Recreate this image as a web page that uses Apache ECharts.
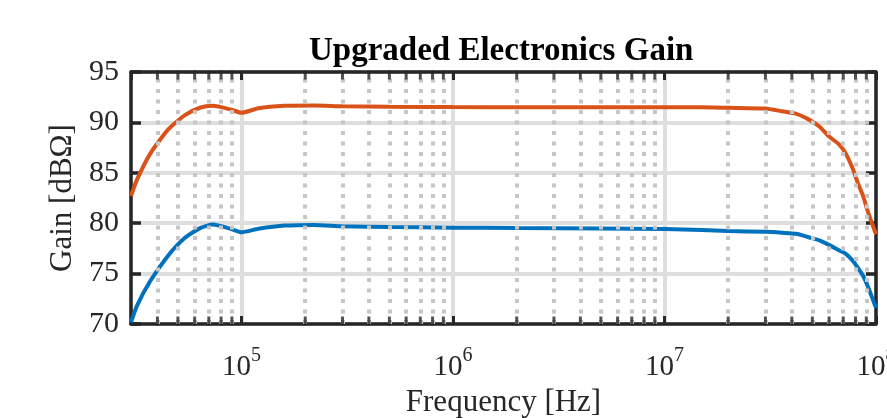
<!DOCTYPE html>
<html>
<head>
<meta charset="utf-8">
<script src="https://cdn.jsdelivr.net/npm/echarts@6/dist/echarts.min.js"></script>
<style>
html,body{margin:0;padding:0;background:#fff;}
#chart{width:887px;height:418px;}
</style>
</head>
<body>
<div id="chart"></div>
<script>
// ---- data ----
const frequency = [3e4, 3.2e4, 3.7e4, 4.5e4, 5.4e4, 6.4e4, 7.3e4, 8.9e4, 1e5, 1.2e5, 1.6e5, 2.2e5, 3e5, 5e5, 1e6, 2e6, 5e6, 1e7, 1.5e7, 2e7, 3e7, 3.6e7, 4.2e7, 4.8e7, 5.4e7, 6e7, 6.7e7, 7.2e7, 7.8e7, 8.2e7, 8.7e7, 9.2e7, 1e8];
const gainHigh = [82.7, 84.3, 86.9, 89.3, 90.72, 91.48, 91.65, 91.28, 90.95, 91.4, 91.64, 91.68, 91.6, 91.55, 91.52, 91.5, 91.5, 91.5, 91.5, 91.45, 91.38, 91.1, 90.85, 90.3, 89.6, 88.6, 87.8, 86.9, 85.3, 84.0, 82.66, 81.0, 78.9];
const gainLow = [70.16, 71.8, 74.26, 76.8, 78.55, 79.54, 79.86, 79.44, 79.1, 79.44, 79.76, 79.83, 79.7, 79.62, 79.56, 79.52, 79.47, 79.42, 79.32, 79.22, 79.14, 79.05, 78.95, 78.61, 78.3, 77.85, 77.3, 76.95, 76.24, 75.59, 74.76, 73.6, 71.6];
const minorTicks = [4e4, 5e4, 6e4, 7e4, 8e4, 9e4,
  2e5, 3e5, 4e5, 5e5, 6e5, 7e5, 8e5, 9e5,
  2e6, 3e6, 4e6, 5e6, 6e6, 7e6, 8e6, 9e6,
  2e7, 3e7, 4e7, 5e7, 6e7, 7e7, 8e7, 9e7];
const xMin = 3e4, xMax = 1e8;
const yMin = 70, yMax = 95, yStep = 5;
const titleText = 'Upgraded Electronics Gain';
const xName = 'Frequency [Hz]';
const yName = 'Gain [dBΩ]';

const FONT = '"Liberation Serif", "DejaVu Serif", serif';
const AX = '#262626';
const TXT = '#262626';

const chart = echarts.init(document.getElementById('chart'), null, {renderer: 'canvas'});

const pairs = (ys) => frequency.map((f, i) => [f, ys[i]]);

chart.setOption({
  animation: false,
  backgroundColor: '#ffffff',
  title: {
    text: titleText,
    left: 309,
    top: 35,
    padding: 0,
    textStyle: {fontFamily: FONT, fontWeight: 'bold', fontSize: 33, color: '#000'}
  },
  grid: {left: 131, top: 72, width: 745, height: 252, containLabel: false, outerBoundsMode: 'none'},
  xAxis: [{
    type: 'log', logBase: 10, min: xMin, max: xMax, position: 'bottom',
    axisLine: {show: true, lineStyle: {color: AX, width: 3.5}},
    axisTick: {show: true, inside: true, length: 8, lineStyle: {color: AX, width: 3}},
    axisLabel: {
      showMinLabel: false, margin: 22, hideOverlap: false,
      formatter: (v) => '{b|10}{s|' + Math.round(Math.log10(v)) + '}',
      rich: {
        b: {fontFamily: FONT, fontSize: 29, color: TXT, verticalAlign: 'bottom', lineHeight: 36},
        s: {fontFamily: FONT, fontSize: 20, color: TXT, verticalAlign: 'top', lineHeight: 36}
      }
    },
    splitLine: {show: true, lineStyle: {color: '#dedede', width: 4}},
    name: xName, nameLocation: 'middle', nameGap: 58,
    nameTextStyle: {fontFamily: FONT, fontSize: 31, color: TXT}
  }, {
    type: 'log', logBase: 10, min: xMin, max: xMax, position: 'top',
    axisLine: {show: true, lineStyle: {color: AX, width: 3.5}},
    axisTick: {show: true, inside: true, length: 8, lineStyle: {color: AX, width: 3}},
    axisLabel: {show: false},
    splitLine: {show: false}
  }],
  yAxis: [{
    type: 'value', min: yMin, max: yMax, interval: yStep, position: 'left',
    axisLine: {show: true, lineStyle: {color: AX, width: 3.5}},
    axisTick: {show: true, inside: true, length: 10, lineStyle: {color: AX, width: 3.5}},
    axisLabel: {margin: 12, fontFamily: FONT, fontSize: 30, color: TXT},
    splitLine: {show: true, lineStyle: {color: '#dedede', width: 4}},
    name: yName, nameLocation: 'middle', nameGap: 50, nameRotate: 90,
    nameTextStyle: {fontFamily: FONT, fontSize: 31, color: TXT}
  }, {
    type: 'value', min: yMin, max: yMax, interval: yStep, position: 'right',
    axisLine: {show: true, lineStyle: {color: AX, width: 3.5}},
    axisTick: {show: true, inside: true, length: 10, lineStyle: {color: AX, width: 3.5}},
    axisLabel: {show: false},
    splitLine: {show: false}
  }],
  series: [
    {
      // minor grid (dotted) at minor tick positions
      type: 'line', data: [], z: 1, silent: true,
      markLine: {
        silent: true, symbol: ['none', 'none'], animation: false,
        label: {show: false},
        lineStyle: {color: '#c6c6c6', width: 4, type: [4, 6.5]},
        emphasis: {disabled: true},
        data: minorTicks.map(v => ({xAxis: v}))
      }
    },
    {
      // minor ticks bottom
      type: 'scatter', silent: true, z: 5,
      symbol: 'rect', symbolSize: [3, 9], symbolOffset: [0, -3],
      itemStyle: {color: AX},
      data: minorTicks.map(v => [v, yMin])
    },
    {
      // minor ticks top
      type: 'scatter', silent: true, z: 5,
      symbol: 'rect', symbolSize: [3, 9], symbolOffset: [0, 3],
      itemStyle: {color: AX},
      data: minorTicks.map(v => [v, yMax])
    },
    {
      type: 'line', name: 'high', data: pairs(gainHigh), z: 3,
      showSymbol: false, smooth: 0.2, clip: true,
      lineStyle: {color: '#D95319', width: 4}
    },
    {
      type: 'line', name: 'low', data: pairs(gainLow), z: 3,
      showSymbol: false, smooth: 0.2, clip: true,
      lineStyle: {color: '#0072BD', width: 4}
    }
  ]
});
</script>
</body>
</html>
